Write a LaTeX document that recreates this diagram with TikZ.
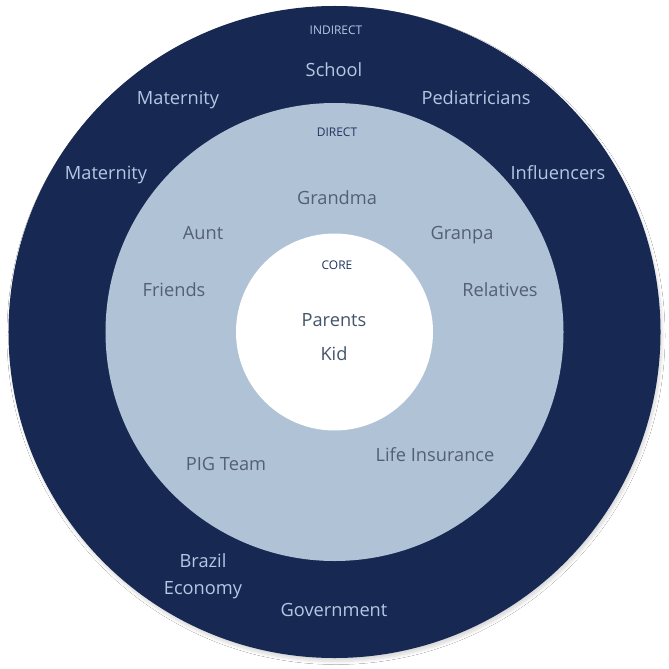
\documentclass[tikz,border=0pt]{standalone}
\usepackage{fontspec}
\setmainfont{Open Sans}
\usetikzlibrary{shadows.blur}
\definecolor{navy}{RGB}{23,41,82}
\definecolor{steel}{RGB}{176,194,214}
\definecolor{outertext}{RGB}{182,199,228}
\definecolor{midtext}{RGB}{84,96,114}
\definecolor{coretext}{RGB}{68,84,106}
\definecolor{tagtext}{RGB}{31,52,94}
\tikzset{
  ring/.style={circle, inner sep=0pt, draw=none},
  lbl/.style={font=\fontsize{18.3}{22}\selectfont, inner sep=0pt, text height=13bp, text depth=0pt},
  outerlbl/.style={lbl, text=outertext},
  midlbl/.style={lbl, text=midtext},
  corelbl/.style={lbl, text=coretext},
  taglbl/.style={font=\fontsize{12}{14}\selectfont, inner sep=0pt, text height=8.5bp, text depth=0pt},
}
\begin{document}
\begin{tikzpicture}[x=1bp,y=-1bp]
\useasboundingbox (0,0) rectangle (669,669);
\fill[white] (0,0) rectangle (669,669);
% three concentric layers
\node[ring, fill=navy, minimum size=652bp,
  blur shadow={shadow xshift=1.5bp, shadow yshift=-3.5bp, shadow blur radius=3bp, shadow blur steps=8, shadow opacity=15}] (outer) at (334.5,332) {};
\node[ring, fill=steel, minimum size=458bp] (middle) at (334.5,332) {};
\node[ring, fill=white, minimum size=197bp] (core) at (334.5,332) {};
% layer tags
\node[taglbl, text=outertext] (tIndirect) at (336,30) {INDIRECT};
\node[taglbl, text=tagtext] (tDirect) at (337,132) {DIRECT};
\node[taglbl, text=tagtext] (tCore) at (337,265) {CORE};
% indirect circle
\node[outerlbl] (school) at (334,70) {School};
\node[outerlbl] (mat1) at (178,98) {Maternity};
\node[outerlbl] (pedi) at (476,98) {Pediatricians};
\node[outerlbl] (mat2) at (106,173) {Maternity};
\node[outerlbl] (infl) at (558,173) {Influencers};
\node[outerlbl] (brazil) at (203,561) {Brazil};
\node[outerlbl] (econ) at (203,588) {Economy};
\node[outerlbl] (gov) at (334,610) {Government};
% direct circle
\node[midlbl] (grandma) at (337,198) {Grandma};
\node[midlbl] (aunt) at (203,233) {Aunt};
\node[midlbl] (granpa) at (462,233) {Granpa};
\node[midlbl] (friends) at (174,290) {Friends};
\node[midlbl] (relatives) at (500,290) {Relatives};
\node[midlbl] (pig) at (226,464) {PIG Team};
\node[midlbl] (life) at (435,455) {Life Insurance};
% core circle
\node[corelbl] (parents) at (334,320) {Parents};
\node[corelbl] (kid) at (334,354) {Kid};
\end{tikzpicture}
\end{document}
